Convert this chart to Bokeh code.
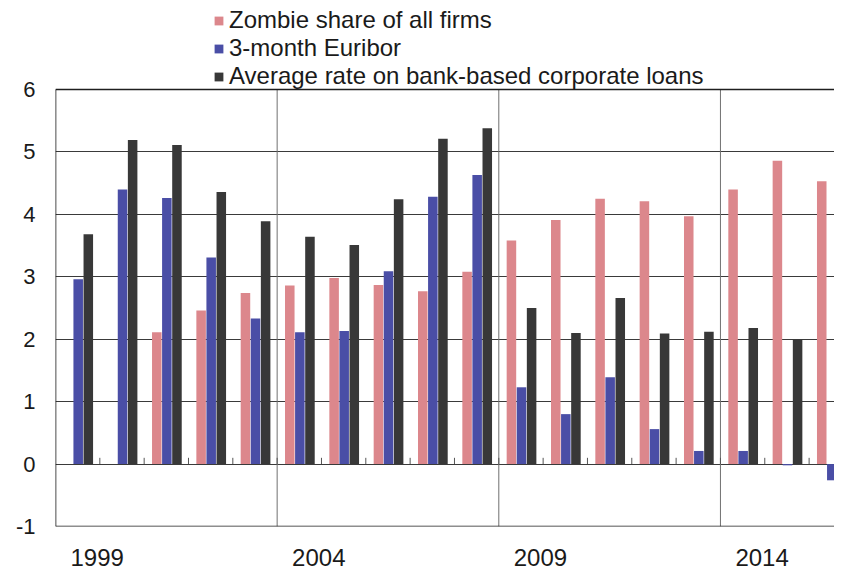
import math
from bokeh.plotting import figure
from bokeh.models import (ColumnDataSource, FixedTicker, CustomJSTickFormatter,
                          Legend, LegendItem, Range1d)
from bokeh.transform import dodge
from bokeh.embed import file_html
from bokeh.resources import INLINE

nan = float("nan")

years = list(range(1999, 2017))
zombie_share = [nan, nan, 2.11, 2.46, 2.74, 2.86, 2.98, 2.87, 2.77, 3.08,
                3.58, 3.91, 4.25, 4.21, 3.97, 4.40, 4.86, 4.53]
euribor_3m = [2.96, 4.40, 4.26, 3.31, 2.33, 2.11, 2.13, 3.09, 4.28, 4.63,
              1.23, 0.80, 1.39, 0.56, 0.21, 0.21, -0.02, -0.26]
loan_rate = [3.68, 5.19, 5.11, 4.36, 3.89, 3.64, 3.51, 4.24, 5.21, 5.38,
             2.50, 2.10, 2.66, 2.09, 2.12, 2.18, 2.00, 1.82]
series_names = ["Zombie share of all firms", "3-month Euribor",
                "Average rate on bank-based corporate loans"]
label_years = [1999, 2004, 2009, 2014]
y_ticks = [-1, 0, 1, 2, 3, 4, 5, 6]

colors = ["#DC878C", "#4A4EA6", "#383838"]
FONT = "Liberation Sans"

src = ColumnDataSource(dict(year=years, zombie=zombie_share,
                            euribor=euribor_3m, loan=loan_rate))

px_per_year = 44.33
px_per_unit = 62.43
left_border = 55
fig_w = 834
frame_w = fig_w - left_border
frame_h = 519
x_start = years[0] - 0.5
x_end = x_start + frame_w / px_per_year
y_min, y_max = y_ticks[0], y_ticks[-1]
y_top = y_min + frame_h / px_per_unit   # room above the plot for the legend

p = figure(frame_width=frame_w, frame_height=frame_h, output_backend="svg",
           toolbar_location=None,
           x_range=Range1d(x_start, x_end), y_range=Range1d(y_min, y_top),
           min_border_left=left_border, min_border_right=0, min_border_top=7,
           min_border_bottom=45)
p.background_fill_color = "white"
p.border_fill_color = "white"
p.outline_line_color = None

p.ygrid.ticker = FixedTicker(ticks=y_ticks[1:-1])
p.ygrid.grid_line_color = "#3a3a3a"
p.ygrid.grid_line_width = 1
p.xgrid.grid_line_color = None

seps = [y - 0.5 for y in label_years[1:]]
p.segment(x0=seps, y0=[y_min] * len(seps), x1=seps, y1=[y_max] * len(seps),
          line_color="#707070", line_width=1)

p.yaxis.ticker = FixedTicker(ticks=y_ticks)
p.yaxis.formatter = CustomJSTickFormatter(code="return tick.toFixed(0);")
p.yaxis.axis_line_color = None
p.yaxis.major_tick_line_color = None
p.yaxis.minor_tick_line_color = None
p.yaxis.major_label_standoff = 14
p.yaxis.major_label_text_font = FONT
p.yaxis.major_label_text_font_size = "22px"
p.yaxis.major_label_text_color = "#1a1a1a"

p.xaxis.ticker = FixedTicker(ticks=[y + 0.44 for y in label_years])
p.xaxis.formatter = CustomJSTickFormatter(code="return Math.floor(tick).toFixed(0);")
p.xaxis.axis_line_color = None
p.xaxis.major_tick_line_color = None
p.xaxis.minor_tick_line_color = None
p.xaxis.major_label_standoff = 16
p.xaxis.major_label_text_font = FONT
p.xaxis.major_label_text_font_size = "24px"
p.xaxis.major_label_text_color = "#1a1a1a"

bounds = [y + 0.5 for y in years[:-1]]
p.segment(x0=bounds, y0=[0] * len(bounds), x1=bounds, y1=[0.1] * len(bounds),
          line_color="#555555", line_width=1)

bw = 0.215
r1 = p.vbar(x=dodge("year", -0.215, range=p.x_range), top="zombie", width=bw,
            source=src, fill_color=colors[0], line_color=None)
r2 = p.vbar(x=dodge("year", 0.012, range=p.x_range), top="euribor", width=bw,
            source=src, fill_color=colors[1], line_color=None)
r3 = p.vbar(x=dodge("year", 0.24, range=p.x_range), top="loan", width=bw,
            source=src, fill_color=colors[2], line_color=None)

p.segment(x0=[x_start, x_start, x_start], y0=[y_min, y_max, y_min],
          x1=[x_start, x_end, x_end], y1=[y_max, y_max, y_min],
          line_color="#1e1e1e", line_width=1.6)

legend = Legend(items=[LegendItem(label=series_names[0], renderers=[r1]),
                       LegendItem(label=series_names[1], renderers=[r2]),
                       LegendItem(label=series_names[2], renderers=[r3])],
                location=(158, 436), orientation="vertical")
legend.label_text_font = FONT
legend.label_text_font_size = "24px"
legend.label_text_color = "#1a1a1a"
legend.glyph_width = 11
legend.glyph_height = 11
legend.label_standoff = 5
legend.label_height = 26
legend.spacing = 0
legend.padding = 0
legend.margin = 0
legend.border_line_color = None
legend.background_fill_alpha = 0
p.add_layout(legend)

open("out.html", "w").write(file_html(p, INLINE))
